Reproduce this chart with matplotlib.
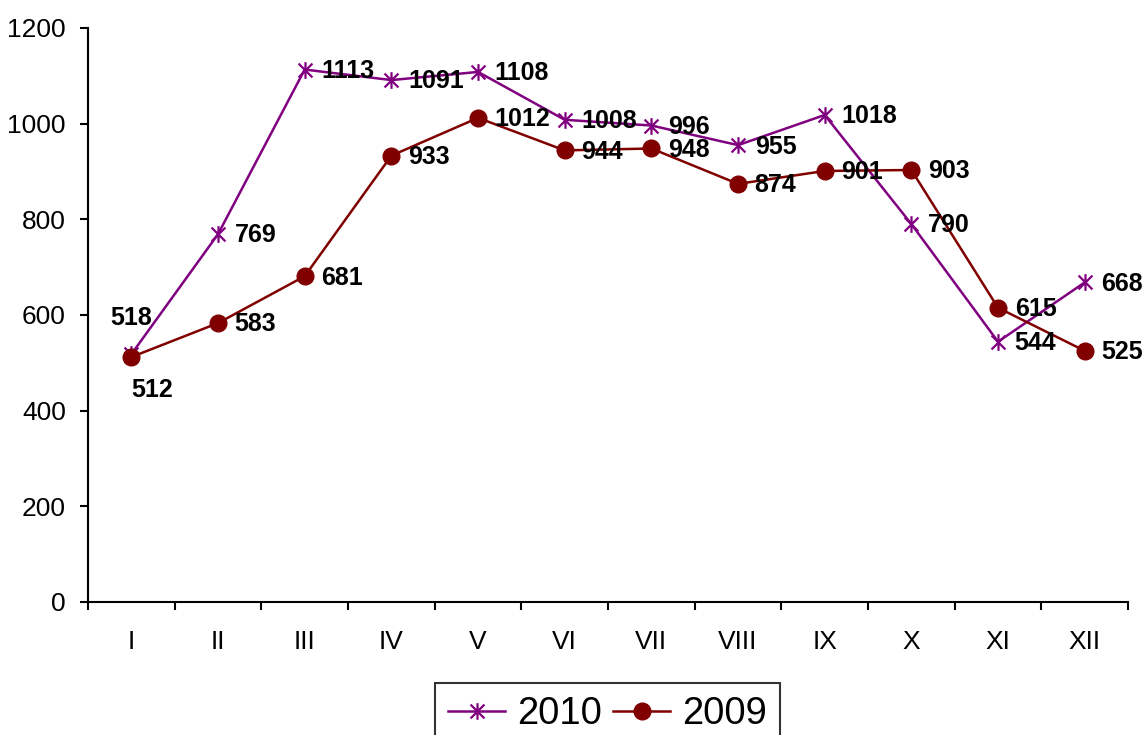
import matplotlib.pyplot as plt
from matplotlib.path import Path
from matplotlib.ticker import FixedLocator

plt.rcParams['font.family'] = ['Liberation Sans', 'DejaVu Sans']

months = ['I', 'II', 'III', 'IV', 'V', 'VI', 'VII', 'VIII', 'IX', 'X', 'XI', 'XII']
y2010 = [518, 769, 1113, 1091, 1108, 1008, 996, 955, 1018, 790, 544, 668]
y2009 = [512, 583, 681, 933, 1012, 944, 948, 874, 901, 903, 615, 525]

# excel-like star: x plus a vertical bar
star = Path([(-1, -1), (1, 1), (-1, 1), (1, -1), (0, -1.2), (0, 1.2)],
            [Path.MOVETO, Path.LINETO, Path.MOVETO, Path.LINETO, Path.MOVETO, Path.LINETO])

fig = plt.figure(figsize=(11.48, 7.35), dpi=100)
ax = fig.add_axes([0.0767, 0.181, 0.9059, 0.781])

x = list(range(len(months)))
ax.plot(x, y2010, color='#800080', lw=1.8, marker=star, markersize=12,
        markeredgewidth=1.6, label='2010')
ax.plot(x, y2009, color='#800000', lw=1.8, marker='o', markersize=12, label='2009')

# value labels
for i, v in enumerate(y2010):
    if i == 0:
        ax.annotate(str(v), (i, v), xytext=(0, 26), textcoords='offset points',
                    ha='center', va='center', fontsize=18, fontweight='bold')
    else:
        ax.annotate(str(v), (i, v), xytext=(12, -1), textcoords='offset points',
                    ha='left', va='center', fontsize=18, fontweight='bold')
for i, v in enumerate(y2009):
    if i == 0:
        ax.annotate(str(v), (i, v), xytext=(0, -24), textcoords='offset points',
                    ha='left', va='center', fontsize=18, fontweight='bold')
    else:
        ax.annotate(str(v), (i, v), xytext=(12, -1), textcoords='offset points',
                    ha='left', va='center', fontsize=18, fontweight='bold')

ax.set_xlim(-0.5, 11.5)
ax.set_ylim(0, 1200)
ax.set_yticks(range(0, 1201, 200))
ax.set_xticks(x)
ax.set_xticklabels(months)
ax.xaxis.set_minor_locator(FixedLocator([i - 0.5 for i in range(13)]))
ax.tick_params(axis='x', which='major', length=0, pad=20, labelsize=19)
ax.tick_params(axis='x', which='minor', length=6, width=1.5, direction='out')
ax.tick_params(axis='y', length=6, width=1.5, direction='out', labelsize=19, pad=10)

for s in ['top', 'right']:
    ax.spines[s].set_visible(False)
for s in ['left', 'bottom']:
    ax.spines[s].set_linewidth(1.5)

leg = fig.legend(loc='upper center', bbox_to_anchor=(0.529, 0.0707), ncol=2,
                 fontsize=27.5, frameon=True, fancybox=False, edgecolor='black',
                 handlelength=1.5, handletextpad=0.3, columnspacing=0.3,
                 borderpad=0.35, borderaxespad=0)
leg.get_frame().set_linewidth(1.5)

plt.savefig('out.png', dpi=100)
